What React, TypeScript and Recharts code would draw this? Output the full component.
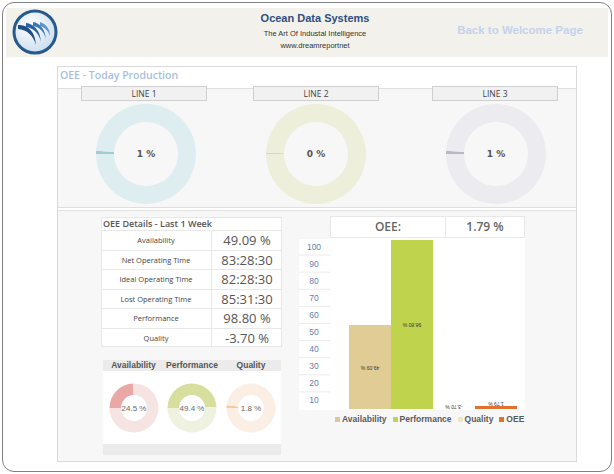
import React from "react";
import { PieChart, Pie, Cell, Label, BarChart, Bar, XAxis, YAxis, Legend, LabelList } from "recharts";

const LINE_NAMES = ["LINE 1", "LINE 2", "LINE 3"];
const LINE_OEE = [1, 0.4, 1];
const LINE_COLORS = [
  ["#a3c9d3", "#deedf0"],
  ["#d4d8b4", "#eeefdb"],
  ["#b9b5ca", "#ecebf0"],
];

const DETAIL_LABELS = ["Availability", "Net Operating Time", "Ideal Operating Time", "Lost Operating Time", "Performance", "Quality"];
const DETAIL_VALUES = ["49.09 %", "83:28:30", "82:28:30", "85:31:30", "98.80 %", "-3.70 %"];

const GAUGE_LABELS = ["Availability", "Performance", "Quality"];
const GAUGE_VALUES = [24.5, 49.4, 1.8];
const GAUGE_COLORS = [
  ["#e9a7a5", "#f6e4e3"],
  ["#d8de9e", "#eff1e1"],
  ["#f6cba2", "#fbeee5"],
];

const SERIES = ["Availability", "Performance", "Quality", "OEE"];
const SERIES_VALUES = [49.09, 98.8, -3.7, 1.79];
const SERIES_COLORS = ["#e1cc95", "#bfd34c", "#f3e7c8", "#e2712e"];
const LEGEND_COLORS = ["#d6c8a2", "#bfd34c", "#f1e4c4", "#e2712e"];
const Y_TICKS = [10, 20, 30, 40, 50, 60, 70, 80, 90, 100];
const OEE_TOTAL = "1.79 %";

const barRow: Record<string, number | string> = { name: "OEE" };
SERIES.forEach((s, i) => (barRow[s] = SERIES_VALUES[i]));
const barData = [barRow];

const SANS = "'Liberation Sans', Arial, sans-serif";
const OPEN = "'Open Sans', 'Noto Sans', sans-serif";

function Donut(props: {
  value: number; colors: string[]; size: number; outer: number; inner: number;
  label: string; fontSize: number; fontWeight: number | string; fill: string; family: string;
}) {
  const data = [{ name: "v", value: props.value }, { name: "rest", value: 100 - props.value }];
  return (
    <PieChart width={props.size} height={props.size} margin={{ top: 0, right: 0, bottom: 0, left: 0 }}>
      <Pie data={data} dataKey="value" cx="50%" cy="50%" innerRadius={props.inner} outerRadius={props.outer}
        startAngle={180} endAngle={-180} stroke="none" isAnimationActive={false}>
        <Cell fill={props.colors[0]} />
        <Cell fill={props.colors[1]} />
        <Label value={props.label} position="center" fill={props.fill} fontSize={props.fontSize}
          fontWeight={props.fontWeight} fontFamily={props.family} />
      </Pie>
    </PieChart>
  );
}

function YTick(p: any) {
  const { x, y, payload } = p;
  return (
    <g>
      <line x1={x - 31} x2={x} y1={y} y2={y} stroke="#ececec" />
      <text x={x - 16} y={y + 11.5} textAnchor="middle" fontSize={8.5} fontFamily={SANS} fill="#5f7fae">
        {payload.value}
      </text>
    </g>
  );
}

function BarValue(p: any) {
  const { x, y, width, height, value } = p;
  const top = Math.min(y, y + height);
  const h = Math.abs(height);
  const cx = x + width / 2;
  const cy = h > 14 && value > 0 ? top + h / 2 : Math.min(top, 409) - 3;
  return (
    <text x={cx} y={cy} textAnchor="middle" dominantBaseline="middle" fontSize={5} fontFamily={SANS}
      fill="#333" transform={`rotate(180 ${cx} ${cy})`}>
      {value.toFixed(2) + " %"}
    </text>
  );
}

function LegendBox() {
  return (
    <div style={{ height: 20, display: "flex", alignItems: "center", paddingLeft: 36, gap: 4,
      fontFamily: SANS, fontWeight: 700, fontSize: 8.5, color: "#5b5b5b" }}>
      {SERIES.map((s, i) => (
        <span key={s} style={{ display: "flex", alignItems: "center", marginRight: 2 }}>
          <span style={{ width: 5, height: 5, background: LEGEND_COLORS[i], marginRight: 2 }} />
          {s}
        </span>
      ))}
    </div>
  );
}

const abs = (l: number, t: number, w: number, h: number, extra: React.CSSProperties = {}): React.CSSProperties => ({
  position: "absolute", left: l, top: t, width: w, height: h, boxSizing: "border-box", ...extra,
});

function Logo() {
  return (
    <svg width={48} height={48} style={{ position: "absolute", left: 11, top: 8 }}>
      <defs>
        <radialGradient id="lg" cx="40%" cy="35%" r="70%">
          <stop offset="0%" stopColor="#ffffff" />
          <stop offset="100%" stopColor="#c9dcee" />
        </radialGradient>
      </defs>
      <circle cx={24} cy={24} r={21} fill="url(#lg)" stroke="#26598c" strokeWidth={3} />
      <path d="M7,17 C16,17 24,22 25,37 C22,27 16,22 7,21 Z" fill="#1f4f86" />
      <path d="M15,15 C23,16 29,22 30,34 C28,25 22,20 15,19 Z" fill="#2b62a0" />
      <path d="M22,14 C29,15 34,21 35,31 C33,23 28,19 22,18 Z" fill="#3c79b8" />
      <path d="M29,14 C35,16 39,21 39,28 C37,22 33,19 29,18 Z" fill="#5b93cc" />
    </svg>
  );
}

export default function App() {
  const lineCenters = [146, 316, 496];
  const lineBoxes = [81, 253, 432];
  const gaugeCenters = [133.5, 192, 251];
  return (
    <div style={{ position: "absolute", left: 0, top: 0, width: 614, height: 474, background: "#fff", overflow: "hidden" }}>
      <div style={abs(2, 2, 610, 470, { border: "1.5px solid #808080", borderRadius: 12 })} />
      {/* header */}
      <div style={abs(6, 8, 602, 49, { background: "#f2f1ec" })} />
      <Logo />
      <div style={abs(215, 12, 200, 14, { textAlign: "center", fontFamily: SANS, fontWeight: 700, fontSize: 11, color: "#2f4e7e" })}>
        Ocean Data Systems
      </div>
      <div style={abs(215, 29, 200, 10, { textAlign: "center", fontFamily: SANS, fontSize: 7.5, color: "#333" })}>
        The Art Of Industal Intelligence
      </div>
      <div style={abs(215, 41, 200, 10, { textAlign: "center", fontFamily: SANS, fontSize: 7.5, color: "#333" })}>
        www.dreamreportnet
      </div>
      <div style={abs(440, 24, 160, 14, { textAlign: "center", fontFamily: SANS, fontWeight: 700, fontSize: 11.5, color: "#c4d3ea" })}>
        Back to Welcome Page
      </div>

      {/* main panel */}
      <div style={abs(57, 66, 520, 396, { border: "1px solid #dadada" })} />
      <div style={abs(60, 68, 200, 16, { fontFamily: OPEN, fontWeight: 600, fontSize: 10.5, color: "#a9c0dd" })}>
        OEE - Today Production
      </div>
      <div style={abs(58, 88, 518, 120, { background: "#f7f7f7", borderTop: "1px solid #dedede", borderBottom: "1px solid #dedede" })} />
      {LINE_NAMES.map((n, i) => (
        <div key={n} style={abs(lineBoxes[i], 86, 126, 15, { background: "#f1f1f1", border: "1px solid #cfcfcf",
          textAlign: "center", fontFamily: OPEN, fontSize: 8.5, lineHeight: "13px", color: "#444" })}>
          {n}
        </div>
      ))}
      {LINE_NAMES.map((n, i) => (
        <div key={n + "d"} style={{ position: "absolute", left: lineCenters[i] - 55, top: 154 - 55 }}>
          <Donut value={LINE_OEE[i]} colors={LINE_COLORS[i]} size={110} outer={50} inner={32}
            label={Math.round(LINE_OEE[i]) + " %"} fontSize={9} fontWeight={700} fill="#555" family="'DejaVu Sans', sans-serif" />
        </div>
      ))}

      {/* bottom section */}
      <div style={abs(58, 210, 518, 251, { background: "#f7f7f7", borderTop: "1px solid #e2e2e2" })} />

      {/* details table */}
      <div style={abs(101, 217, 181, 130, { background: "#fff", border: "1px solid #e8e8e8" })} />
      <div style={abs(101, 217, 130, 13, { whiteSpace: "nowrap", paddingLeft: 2,
        fontFamily: OPEN, fontWeight: 600, fontSize: 9, lineHeight: "13px", color: "#555" })}>
        OEE Details - Last 1 Week
      </div>
      {DETAIL_LABELS.map((l, i) => (
        <React.Fragment key={l}>
          <div style={abs(101, 230 + i * 19.5, 111, 19.5, { borderTop: "1px solid #e8e8e8", borderRight: "1px solid #e8e8e8",
            textAlign: "center", fontFamily: OPEN, fontSize: 7.5, lineHeight: "18px", color: "#444" })}>
            {l}
          </div>
          <div style={abs(212, 230 + i * 19.5, 70, 19.5, { borderTop: "1px solid #e8e8e8",
            textAlign: "center", fontFamily: OPEN, fontSize: 13, lineHeight: "18px", color: "#555" })}>
            {DETAIL_VALUES[i]}
          </div>
        </React.Fragment>
      ))}

      {/* small gauges */}
      <div style={abs(103, 360, 178, 11, { background: "#ebebeb" })} />
      <div style={abs(103, 371, 178, 73, { background: "#fff" })} />
      <div style={abs(103, 444, 178, 11, { background: "#ebebeb" })} />
      {GAUGE_LABELS.map((g, i) => (
        <div key={g} style={abs(gaugeCenters[i] - 29, 360, 58, 11, { whiteSpace: "nowrap",
          textAlign: "center", fontFamily: SANS, fontWeight: 700, fontSize: 8.5, lineHeight: "11px", color: "#555" })}>
          {g}
        </div>
      ))}
      {GAUGE_LABELS.map((g, i) => (
        <div key={g + "d"} style={{ position: "absolute", left: gaugeCenters[i] - 27, top: 407.5 - 27 }}>
          <Donut value={GAUGE_VALUES[i]} colors={GAUGE_COLORS[i]} size={54} outer={24.5} inner={13}
            label={GAUGE_VALUES[i].toFixed(1) + " %"} fontSize={8} fontWeight={400} fill="#666" family={SANS} />
        </div>
      ))}

      {/* OEE bar chart */}
      <div style={abs(330, 216, 116, 22, { background: "#fff", border: "1px solid #e8e8e8",
        textAlign: "center", fontFamily: OPEN, fontWeight: 600, fontSize: 12, lineHeight: "20px", color: "#666" })}>
        OEE:
      </div>
      <div style={abs(445, 216, 80, 22, { background: "#fff", border: "1px solid #e8e8e8",
        textAlign: "center", fontFamily: OPEN, fontWeight: 600, fontSize: 12, lineHeight: "20px", color: "#666" })}>
        {OEE_TOTAL}
      </div>
      <div style={abs(299, 238, 226, 172, { background: "#fff" })} />
      <div style={{ position: "absolute", left: 299, top: 238 }}>
        <BarChart width={226} height={191} data={barData} margin={{ top: 0, right: 0, bottom: 0, left: 0 }}
          barGap={0} barCategoryGap={10}>
          <XAxis dataKey="name" hide padding={{ left: 9, right: 0 }} />
          <YAxis width={31} domain={[0, 100]} ticks={Y_TICKS} allowDataOverflow axisLine={false}
            tickLine={false} tickSize={0} tickMargin={0} tick={<YTick />} interval={0} />
          <Legend verticalAlign="bottom" content={() => <LegendBox />} />
          {SERIES.map((s, i) => (
            <Bar key={s} dataKey={s} fill={SERIES_COLORS[i]} isAnimationActive={false}>
              <LabelList dataKey={s} content={<BarValue />} />
            </Bar>
          ))}
        </BarChart>
      </div>
    </div>
  );
}
